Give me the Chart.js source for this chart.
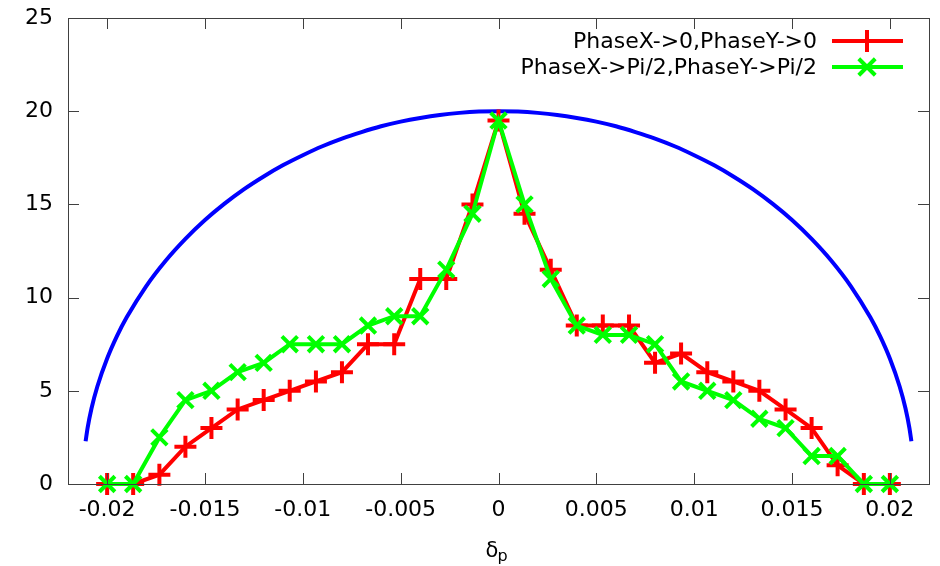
<!DOCTYPE html>
<html>
<head>
<meta charset="utf-8">
<script src="https://cdn.jsdelivr.net/npm/chart.js@4.4.1/dist/chart.umd.min.js"></script>
<style>
  html, body { margin: 0; padding: 0; background: #fff; }
  canvas { display: block; }
</style>
</head>
<body>
<canvas id="chart" width="940" height="566"></canvas>
<script>
// Data ------------------------------------------------------------------
var xTickVals   = [-0.02, -0.015, -0.01, -0.005, 0, 0.005, 0.01, 0.015, 0.02];
var xTickLabels = ["-0.02", "-0.015", "-0.01", "-0.005", "0", "0.005", "0.01", "0.015", "0.02"];
var yTickVals   = [0, 5, 10, 15, 20, 25];

var deltaP = [-0.02, -0.01867, -0.01733, -0.016, -0.01467, -0.01333, -0.012, -0.01067,
              -0.00933, -0.008, -0.00667, -0.00533, -0.004, -0.00267, -0.00133, 0,
              0.00133, 0.00267, 0.004, 0.00533, 0.00667, 0.008, 0.00933, 0.01067,
              0.012, 0.01333, 0.01467, 0.016, 0.01733, 0.01867, 0.02];
var phase0   = [0, 0, 0.5, 2, 3, 4, 4.5, 5, 5.5, 6, 7.5, 7.5, 11, 11, 15, 19.5,
                14.5, 11.5, 8.5, 8.5, 8.5, 6.5, 7, 6, 5.5, 5, 4, 3, 1, 0, 0];
var phasePi2 = [0, 0, 2.5, 4.5, 5, 6, 6.5, 7.5, 7.5, 7.5, 8.5, 9, 9, 11.5, 14.5, 19.5,
                15, 11, 8.5, 8, 8, 7.5, 5.5, 5, 4.5, 3.5, 3, 1.5, 1.5, 0, 0];

// envelope curve (blue)
var envX = [-0.0211, -0.021, -0.0208, -0.0205, -0.02, -0.0195, -0.019, -0.018, -0.017,
            -0.016, -0.015, -0.014, -0.013, -0.012, -0.011, -0.01, -0.009, -0.008,
            -0.007, -0.006, -0.005, -0.004, -0.003, -0.002, -0.001, 0,
            0.001, 0.002, 0.003, 0.004, 0.005, 0.006, 0.007, 0.008, 0.009, 0.01,
            0.011, 0.012, 0.013, 0.014, 0.015, 0.016, 0.017, 0.018, 0.019, 0.0195,
            0.02, 0.0205, 0.0208, 0.021, 0.0211];
var envY = [2.29, 3.0, 4.05, 5.23, 6.73, 7.93, 8.94, 10.62, 11.99,
            13.15, 14.16, 15.04, 15.82, 16.5, 17.11, 17.64, 18.12, 18.53,
            18.88, 19.19, 19.44, 19.64, 19.8, 19.91, 19.98, 20,
            19.98, 19.91, 19.8, 19.64, 19.44, 19.19, 18.88, 18.53, 18.12, 17.64,
            17.11, 16.5, 15.82, 15.04, 14.16, 13.15, 11.99, 10.62, 8.94, 7.93,
            6.73, 5.23, 4.05, 3.0, 2.29];

var legendLabels = ["PhaseX->0,PhaseY->0", "PhaseX->Pi/2,PhaseY->Pi/2"];

// Theme -----------------------------------------------------------------
var RED = "#ff0000", GREEN = "#00ff00", BLUE = "#0000ff", FRAME = "#404040";
var FONT = "'DejaVu Sans', sans-serif";
Chart.defaults.font.family = FONT;
Chart.defaults.font.size = 22;
Chart.defaults.color = "#000";

function pts(xs, ys) {
  return xs.map(function (x, i) { return { x: x, y: ys[i] }; });
}

// keep the plot box where the reference has it
function noPad(s) {
  s.paddingLeft = s.paddingRight = s.paddingTop = s.paddingBottom = 0;
}

// gnuplot-style border with inward ticks on all four sides
var framePlugin = {
  id: "frame",
  afterDatasetsDraw: function (chart) {
    var ctx = chart.ctx, a = chart.chartArea, sx = chart.scales.x, sy = chart.scales.y;
    var T = 11;
    ctx.save();
    ctx.strokeStyle = FRAME;
    ctx.lineWidth = 1;
    ctx.beginPath();
    xTickVals.forEach(function (v) {
      var p = Math.round(sx.getPixelForValue(v)) + 0.5;
      ctx.moveTo(p, a.bottom); ctx.lineTo(p, a.bottom - T);
      ctx.moveTo(p, a.top);    ctx.lineTo(p, a.top + T);
    });
    yTickVals.forEach(function (v) {
      var p = Math.round(sy.getPixelForValue(v)) + 0.5;
      ctx.moveTo(a.left, p);  ctx.lineTo(a.left + T, p);
      ctx.moveTo(a.right, p); ctx.lineTo(a.right - T, p);
    });
    ctx.stroke();
    ctx.strokeRect(Math.round(a.left) + 0.5, Math.round(a.top) + 0.5,
                   Math.round(a.right - a.left), Math.round(a.bottom - a.top));
    ctx.restore();
  }
};

// key in the top-right corner: text right-aligned, sample to the right
var keyPlugin = {
  id: "key",
  afterDraw: function (chart) {
    var ctx = chart.ctx;
    var rows = [41, 67], textRight = 817, lx0 = 832, lx1 = 903, mx = 867, r = 11;
    ctx.save();
    ctx.font = "22px " + FONT;
    ctx.fillStyle = "#000";
    ctx.textAlign = "right";
    ctx.textBaseline = "middle";
    [RED, GREEN].forEach(function (col, i) {
      var y = rows[i];
      ctx.fillText(legendLabels[i], textRight, y + 1);
      ctx.strokeStyle = col;
      ctx.lineWidth = 4;
      ctx.beginPath();
      ctx.moveTo(lx0, y); ctx.lineTo(lx1, y);
      if (i === 0) {
        ctx.moveTo(mx, y - r); ctx.lineTo(mx, y + r);
      } else {
        var d = r * 0.75;
        ctx.moveTo(mx - d, y - d); ctx.lineTo(mx + d, y + d);
        ctx.moveTo(mx - d, y + d); ctx.lineTo(mx + d, y - d);
      }
      ctx.stroke();
    });
    // x axis title: delta with subscript p
    ctx.textAlign = "left";
    ctx.textBaseline = "alphabetic";
    var cx = chart.scales.x.getPixelForValue(0);
    ctx.font = "21px " + FONT;
    ctx.fillText("\u03b4", cx - 13, 557);
    ctx.font = "16px " + FONT;
    ctx.fillText("p", cx - 1, 561);
    ctx.restore();
  }
};

new Chart(document.getElementById("chart"), {
  type: "line",
  data: {
    datasets: [
      { label: legendLabels[1], data: pts(deltaP, phasePi2), borderColor: GREEN,
        backgroundColor: GREEN, borderWidth: 4, pointStyle: "crossRot", pointRadius: 11,
        pointBorderWidth: 4, tension: 0, clip: false, order: 0 },
      { label: legendLabels[0], data: pts(deltaP, phase0), borderColor: RED,
        backgroundColor: RED, borderWidth: 4, pointStyle: "cross", pointRadius: 11,
        pointBorderWidth: 4, tension: 0, clip: false, order: 1 },
      { label: "envelope", data: pts(envX, envY), borderColor: BLUE,
        borderWidth: 4, pointRadius: 0, cubicInterpolationMode: "monotone",
        clip: false, order: 2 }
    ]
  },
  options: {
    responsive: false,
    devicePixelRatio: 1,
    animation: false,
    layout: { autoPadding: false, padding: { top: 18, right: 11, left: 0, bottom: 0 } },
    plugins: { legend: { display: false }, tooltip: { enabled: false } },
    scales: {
      x: {
        type: "linear", min: -0.022, max: 0.022,
        grid: { display: false, drawTicks: false },
        border: { display: false },
        afterBuildTicks: function (s) { s.ticks = xTickVals.map(function (v) { return { value: v }; }); },
        afterFit: function (s) { s.height = 82; noPad(s); },
        ticks: { padding: 13, maxRotation: 0, autoSkip: false,
                 callback: function (v, i) { return xTickLabels[i]; } }
      },
      y: {
        type: "linear", min: 0, max: 25,
        grid: { display: false, drawTicks: false },
        border: { display: false },
        afterBuildTicks: function (s) { s.ticks = yTickVals.map(function (v) { return { value: v }; }); },
        afterFit: function (s) { s.width = 68; noPad(s); },
        ticks: { padding: 15 }
      }
    }
  },
  plugins: [framePlugin, keyPlugin]
});
</script>
</body>
</html>
